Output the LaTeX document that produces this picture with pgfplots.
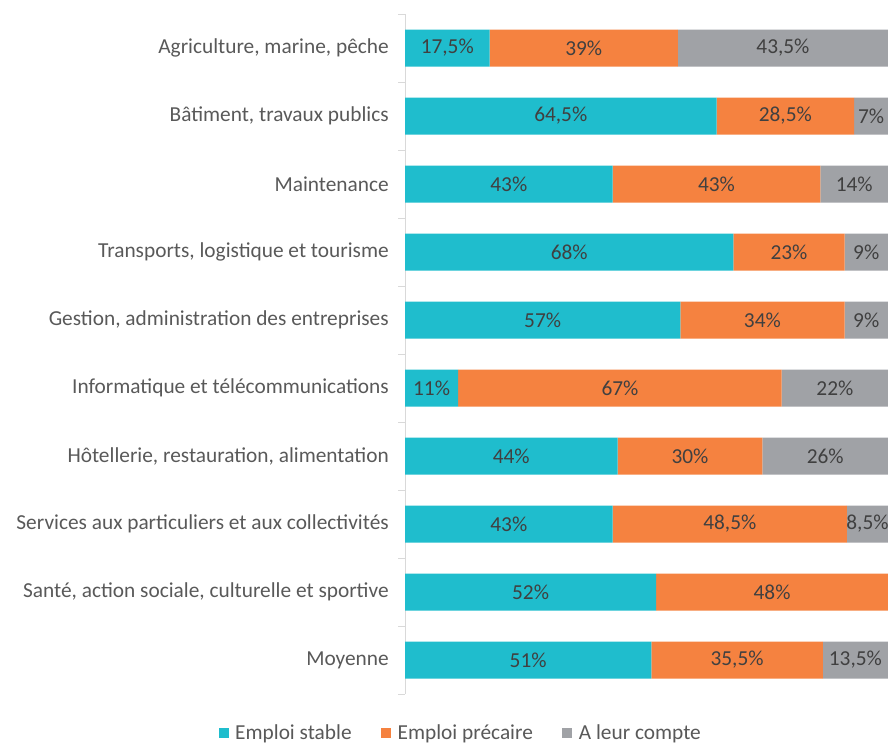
\documentclass[border=0pt]{standalone}
\usepackage{pgfplots}
\pgfplotsset{compat=1.18}
\usepackage{fontspec}
\setmainfont{Carlito}
\definecolor{cteal}{HTML}{1FBDCD}
\definecolor{corange}{HTML}{F58240}
\definecolor{cgray}{HTML}{A0A2A6}
\definecolor{ctext}{HTML}{404040}
\definecolor{clabel}{HTML}{595959}
\definecolor{caxis}{HTML}{D9D9D9}
\begin{document}
\begin{tikzpicture}
\useasboundingbox (0pt,0pt) rectangle (666pt,557.25pt);
\begin{axis}[
  at={(303.75pt,36.75pt)}, anchor=south west,
  scale only axis, width=362.25pt, height=510pt,
  xbar stacked, bar width=27.75pt,
  xmin=0, xmax=100, ymin=-0.5, ymax=9.5, y dir=reverse,
  hide x axis,
  axis y line*=left,
  y axis line style={caxis},
  ytick={0,...,9},
  yticklabels={{Agriculture, marine, pêche},{Bâtiment, travaux publics},{Maintenance},{Transports, logistique et tourisme},{Gestion, administration des entreprises},{Informatique et télécommunications},{Hôtellerie, restauration, alimentation},{Services aux particuliers et aux collectivités},{Santé, action sociale, culturelle et sportive},{Moyenne}},
  major tick length=0pt,
  minor ytick={-0.5,0.5,...,9.5},
  minor tick length=5.25pt,
  tick align=outside,
  minor tick style={caxis},
  yticklabel style={font=\fontsize{16}{18}\selectfont, text=clabel, anchor=east, inner sep=0pt, xshift=-12pt},
  point meta=explicit symbolic,
  nodes near coords,
  nodes near coords style={anchor=center, font=\fontsize{16}{18}\selectfont, text=ctext},
  legend style={at={(0.116,-0.057)}, anchor=center, legend columns=3, draw=none, font=\fontsize{16}{18}\selectfont, text=clabel, /tikz/every odd column/.append style={column sep=3pt}, /tikz/every even column/.append style={column sep=20pt}},
  legend image code/.code={\fill[#1] (0pt,-3.75pt) rectangle (7.5pt,3.75pt);},
]
\addplot[fill=cteal, draw=none] coordinates {
(17.5,0) [17,5\%]
(64.5,1) [64,5\%]
(43,2) [43\%]
(68,3) [68\%]
(57,4) [57\%]
(11,5) [11\%]
(44,6) [44\%]
(43,7) [43\%]
(52,8) [52\%]
(51,9) [51\%]
};
\addplot[fill=corange, draw=none] coordinates {
(39,0) [39\%]
(28.5,1) [28,5\%]
(43,2) [43\%]
(23,3) [23\%]
(34,4) [34\%]
(67,5) [67\%]
(30,6) [30\%]
(48.5,7) [48,5\%]
(48,8) [48\%]
(35.5,9) [35,5\%]
};
\addplot[fill=cgray, draw=none] coordinates {
(43.5,0) [43,5\%]
(7,1) [7\%]
(14,2) [14\%]
(9,3) [9\%]
(9,4) [9\%]
(22,5) [22\%]
(26,6) [26\%]
(8.5,7) [8,5\%]
(0,8) [{}]
(13.5,9) [13,5\%]
};
\legend{Emploi stable, Emploi précaire, A leur compte}
\end{axis}
\end{tikzpicture}
\end{document}
